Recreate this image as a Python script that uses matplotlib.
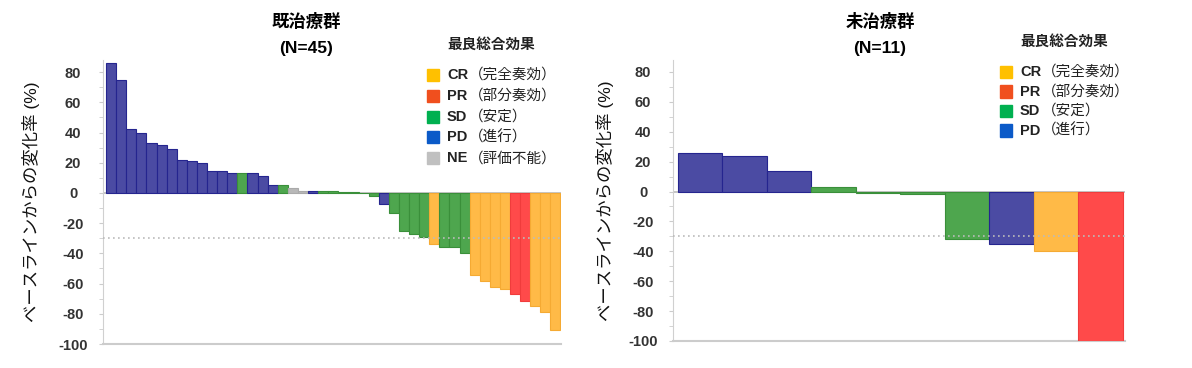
import matplotlib
matplotlib.use("Agg")
import matplotlib.pyplot as plt
from matplotlib.patches import Rectangle

plt.rcParams['font.family'] = ['Liberation Sans', 'Noto Sans CJK JP', 'DejaVu Sans']
plt.rcParams['axes.unicode_minus'] = False

# data: best % change from baseline, one bar per patient
pretreated_change = [86, 75, 42, 40, 33, 32, 29, 21.5, 21, 20, 14.5, 14.5, 13, 13, 13,
                     11, 5.5, 5.5, 3.5, 1.5, 1.5, 1.5, 1.2, 0.8, 0.5, 0.2, -2, -7,
                     -13, -25.5, -27, -29, -34, -35.5, -36, -40, -54, -58.5, -62.5,
                     -63.5, -67, -71.5, -75, -79, -91]
pretreated_resp = (["PD"] * 13 + ["SD", "PD", "PD", "PD", "SD", "NE", "NE", "PD"]
                   + ["SD"] * 6 + ["PD"] + ["SD"] * 4 + ["CR"] + ["SD"] * 3
                   + ["CR"] * 4 + ["PR"] * 2 + ["CR"] * 3)

naive_change = [26, 24, 14, 3, -1, -1.5, -32, -35, -40, -100]
naive_resp = ["PD", "PD", "PD", "SD", "SD", "SD", "SD", "PD", "CR", "PR"]

legend_codes = ["CR", "PR", "SD", "PD", "NE"]
legend_names = ["（完全奏効）", "（部分奏効）", "（安定）", "（進行）", "（評価不能）"]

bar_fill = {"PD": "#4b4ba3", "SD": "#4ea64e", "CR": "#ffba47", "PR": "#ff4a4a", "NE": "#b8b8b8"}
bar_edge = {"PD": "#25258f", "SD": "#3a8f3a", "CR": "#f5aa33", "PR": "#f03c3c", "NE": "#aaaaaa"}
legend_color = {"CR": "#ffc000", "PR": "#f04f1e", "SD": "#00b050", "PD": "#0b5ac8", "NE": "#c0c0c0"}

W, H = 1192, 368
fig = plt.figure(figsize=(W / 100, H / 100), dpi=100)


def px(x, y):
    return x / W, 1 - y / H


def panel(rect, values, resp, xlim, label_x):
    ax = fig.add_axes(rect)
    x = list(range(len(values)))
    ax.bar(x, values, width=1.0,
           color=[bar_fill[r] for r in resp],
           edgecolor=[bar_edge[r] for r in resp], linewidth=0.8, zorder=3)
    ax.set_xlim(*xlim)
    ax.set_ylim(-100, 88)
    ax.set_yticks(range(-100, 81, 20))
    ax.set_yticks(range(-100, 81, 10), minor=True)
    ax.set_xticks([])
    for s in ["top", "right"]:
        ax.spines[s].set_visible(False)
    ax.spines["left"].set_color("#d0d0d0")
    ax.spines["bottom"].set_color("#cccccc")
    ax.spines["bottom"].set_linewidth(1.5)
    ax.tick_params(axis="y", which="both", color="#cccccc", length=3)
    ax.tick_params(axis="y", which="major", labelsize=10.5, labelcolor="#333333", pad=18.5)
    for t in ax.get_yticklabels():
        t.set_fontweight("bold")
        t.set_horizontalalignment("center")
    ax.axhline(0, color="#bbbbbb", lw=1.2, zorder=2)
    ax.axhline(-30, color="#bbbbbb", lw=1.2, ls=(0, (1, 2)), zorder=4)
    ax.set_ylabel("ベースラインからの変化率 (%)", fontsize=12.5, color="#111111")
    ax.yaxis.set_label_coords(label_x, 0.5)
    return ax


def legend(x0, y0, dy, codes):
    fig.text(*px(x0 + 20, y0 - 30), "最良総合効果", fontsize=10.5, color="#222222",
             va="center", ha="left", fontweight="bold")
    for i, code in enumerate(codes):
        yy = y0 + i * dy
        fig.patches.append(Rectangle(px(x0, yy + 6), 12 / W, 12 / H,
                                     transform=fig.transFigure, color=legend_color[code]))
        fig.text(*px(x0 + 20, yy), code, fontsize=10.5, fontweight="bold",
                 color="#222222", va="center", ha="left")
        fig.text(*px(x0 + 42, yy), legend_names[legend_codes.index(code)],
                 fontsize=10.5, color="#222222", va="center", ha="left")


ax1 = panel([103 / W, 1 - 344 / H, 458 / W, 284 / H], pretreated_change,
            pretreated_resp, (-0.8, 44.55), -0.138)
ax2 = panel([673 / W, 1 - 341 / H, 452 / W, 281 / H], naive_change,
            naive_resp, (-0.61, 9.55), -0.130)

fig.text(*px(306, 21), "既治療群", fontsize=12.5, fontweight="bold", ha="center", va="center")
fig.text(*px(306, 48), "(N=45)", fontsize=12.5, fontweight="bold", ha="center", va="center")
fig.text(*px(880, 21), "未治療群", fontsize=12.5, fontweight="bold", ha="center", va="center")
fig.text(*px(880, 48), "(N=11)", fontsize=12.5, fontweight="bold", ha="center", va="center")

legend(427, 75, 20.8, legend_codes)
legend(1000, 72, 19.5, legend_codes[:4])

fig.savefig("out.png", dpi=100)
